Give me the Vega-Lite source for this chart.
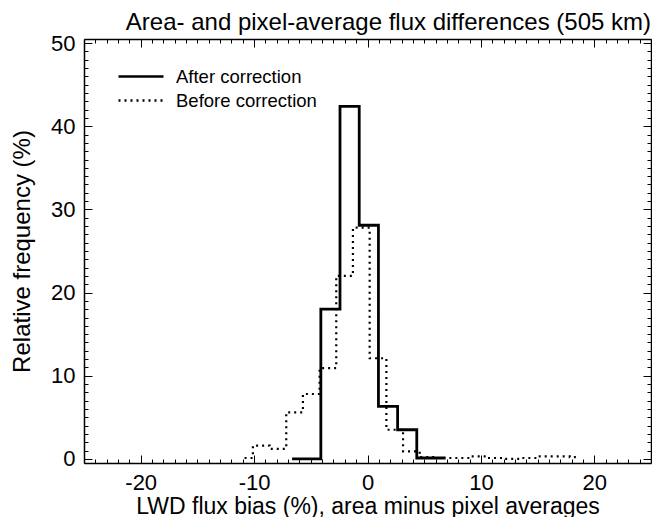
{
  "$schema": "https://vega.github.io/schema/vega-lite/v6.json",
  "width": 567,
  "height": 424,
  "autosize": "none",
  "padding": {"left": 84, "top": 39, "right": 1, "bottom": 54},
  "background": "white",
  "config": {"view": {"stroke": null}, "font": "Liberation Sans"},
  "title": {"text": "Area- and pixel-average flux differences (505 km)", "anchor": "end", "frame": "group", "fontSize": 24, "fontWeight": "normal", "font": "Liberation Sans", "color": "black", "offset": -3},
  "datasets": {
    "after": [
      {"series": "After correction", "bias": -6.65, "freq": 0},
      {"series": "After correction", "bias": -4.96, "freq": 0},
      {"series": "After correction", "bias": -3.27, "freq": 18.0},
      {"series": "After correction", "bias": -1.58, "freq": 42.4},
      {"series": "After correction", "bias": 0.12, "freq": 28.1},
      {"series": "After correction", "bias": 1.81, "freq": 6.3},
      {"series": "After correction", "bias": 3.50, "freq": 3.5},
      {"series": "After correction", "bias": 5.19, "freq": 0.1},
      {"series": "After correction", "bias": 6.88, "freq": 0.1}
    ],
    "before": [
      {"series": "Before correction", "bias": -10.84, "freq": 0.1},
      {"series": "Before correction", "bias": -9.37, "freq": 1.6},
      {"series": "Before correction", "bias": -7.90, "freq": 1.2},
      {"series": "Before correction", "bias": -6.43, "freq": 5.6},
      {"series": "Before correction", "bias": -4.96, "freq": 7.8},
      {"series": "Before correction", "bias": -3.49, "freq": 10.9},
      {"series": "Before correction", "bias": -2.02, "freq": 22.0},
      {"series": "Before correction", "bias": -0.55, "freq": 27.8},
      {"series": "Before correction", "bias": 0.93, "freq": 12.1},
      {"series": "Before correction", "bias": 2.40, "freq": 3.5},
      {"series": "Before correction", "bias": 3.87, "freq": 0.9},
      {"series": "Before correction", "bias": 5.34, "freq": 0.2},
      {"series": "Before correction", "bias": 6.81, "freq": 0.1},
      {"series": "Before correction", "bias": 8.28, "freq": 0.1},
      {"series": "Before correction", "bias": 9.75, "freq": 0.3},
      {"series": "Before correction", "bias": 11.22, "freq": 0.1},
      {"series": "Before correction", "bias": 12.69, "freq": 0.0},
      {"series": "Before correction", "bias": 14.16, "freq": 0.1},
      {"series": "Before correction", "bias": 15.63, "freq": 0.3},
      {"series": "Before correction", "bias": 17.10, "freq": 0.3},
      {"series": "Before correction", "bias": 18.57, "freq": 0.2}
    ]
  },
  "layer": [
    {
      "data": {"name": "after"},
      "mark": {"type": "line", "interpolate": "step", "strokeWidth": 2.8, "color": "black"},
      "encoding": {
        "x": {
          "field": "bias", "type": "quantitative",
          "scale": {"domain": [-25, 25], "nice": false, "zero": false},
          "axis": {
            "orient": "bottom",
            "values": [-25,-24,-23,-22,-21,-20,-19,-18,-17,-16,-15,-14,-13,-12,-11,-10,-9,-8,-7,-6,-5,-4,-3,-2,-1,0,1,2,3,4,5,6,7,8,9,10,11,12,13,14,15,16,17,18,19,20,21,22,23,24,25],
            "grid": false,
            "domainColor": "black", "domainWidth": 1.5,
            "tickColor": "black", "tickWidth": 1, "tickSize": -4,
            "labelExpr": "datum.value % 10 === 0 ? '' + datum.value : ''",
            "labelFontSize": 22, "labelColor": "black", "labelPadding": 13,
            "labelOverlap": false, "labelFlush": false,
            "title": "LWD flux bias (%), area minus pixel averages",
            "titleFontSize": 23, "titleFontWeight": "normal", "titleColor": "black", "titlePadding": 2
          }
        },
        "y": {
          "field": "freq", "type": "quantitative",
          "scale": {"domain": [-0.5, 50.5], "nice": false, "zero": false},
          "axis": {
            "orient": "left",
            "values": [0,1,2,3,4,5,6,7,8,9,10,11,12,13,14,15,16,17,18,19,20,21,22,23,24,25,26,27,28,29,30,31,32,33,34,35,36,37,38,39,40,41,42,43,44,45,46,47,48,49,50],
            "grid": false,
            "domainColor": "black", "domainWidth": 1.5,
            "tickColor": "black", "tickWidth": 1, "tickSize": -4,
            "labelExpr": "datum.value % 10 === 0 ? '' + datum.value : ''",
            "labelFontSize": 22, "labelColor": "black", "labelPadding": 13,
            "labelOverlap": false, "labelFlush": false,
            "title": "Relative frequency (%)",
            "titleFontSize": 24, "titleFontWeight": "normal", "titleColor": "black", "titlePadding": 16
          }
        },
        "strokeDash": {
          "field": "series", "type": "nominal",
          "scale": {"domain": ["After correction", "Before correction"], "range": [[1, 0], [2, 4]]},
          "legend": {
            "orient": "none", "legendX": 46.5, "legendY": 27,
            "title": null, "symbolType": "M-2.5,0H2.5", "symbolSize": 324,
            "symbolStrokeWidth": 2.5, "symbolStrokeColor": "black", "symbolFillColor": "transparent",
            "labelFontSize": 18.5, "labelColor": "black", "labelOffset": 24.5,
            "rowPadding": 4, "padding": 0
          }
        }
      }
    },
    {
      "data": {"name": "before"},
      "mark": {"type": "line", "interpolate": "step", "strokeWidth": 2.2, "color": "black"},
      "encoding": {
        "x": {
          "field": "bias", "type": "quantitative",
          "axis": {
            "orient": "top",
            "values": [-25,-24,-23,-22,-21,-20,-19,-18,-17,-16,-15,-14,-13,-12,-11,-10,-9,-8,-7,-6,-5,-4,-3,-2,-1,0,1,2,3,4,5,6,7,8,9,10,11,12,13,14,15,16,17,18,19,20,21,22,23,24,25],
            "grid": false, "labels": false, "title": null,
            "domainColor": "black", "domainWidth": 1.5,
            "tickColor": "black", "tickWidth": 1, "tickSize": -4
          }
        },
        "y": {
          "field": "freq", "type": "quantitative",
          "axis": {
            "orient": "right",
            "values": [0,1,2,3,4,5,6,7,8,9,10,11,12,13,14,15,16,17,18,19,20,21,22,23,24,25,26,27,28,29,30,31,32,33,34,35,36,37,38,39,40,41,42,43,44,45,46,47,48,49,50],
            "grid": false, "labels": false, "title": null,
            "domainColor": "black", "domainWidth": 1.5,
            "tickColor": "black", "tickWidth": 1, "tickSize": -4
          }
        },
        "strokeDash": {"field": "series", "type": "nominal"}
      }
    },
    {
      "data": {"name": "after"},
      "mark": {"type": "line", "interpolate": "step", "opacity": 0},
      "encoding": {
        "x": {
          "field": "bias", "type": "quantitative",
          "axis": {
            "orient": "bottom", "values": [-20, -10, 0, 10, 20],
            "grid": false, "labels": false, "title": null, "domain": false,
            "tickColor": "black", "tickWidth": 1, "tickSize": -8
          }
        },
        "y": {
          "field": "freq", "type": "quantitative",
          "axis": {
            "orient": "left", "values": [0, 10, 20, 30, 40, 50],
            "grid": false, "labels": false, "title": null, "domain": false,
            "tickColor": "black", "tickWidth": 1, "tickSize": -8
          }
        }
      }
    },
    {
      "data": {"name": "before"},
      "mark": {"type": "line", "interpolate": "step", "opacity": 0},
      "encoding": {
        "x": {
          "field": "bias", "type": "quantitative",
          "axis": {
            "orient": "top", "values": [-20, -10, 0, 10, 20],
            "grid": false, "labels": false, "title": null, "domain": false,
            "tickColor": "black", "tickWidth": 1, "tickSize": -8
          }
        },
        "y": {
          "field": "freq", "type": "quantitative",
          "axis": {
            "orient": "right", "values": [0, 10, 20, 30, 40, 50],
            "grid": false, "labels": false, "title": null, "domain": false,
            "tickColor": "black", "tickWidth": 1, "tickSize": -8
          }
        }
      }
    }
  ],
  "resolve": {"axis": {"x": "independent", "y": "independent"}}
}
